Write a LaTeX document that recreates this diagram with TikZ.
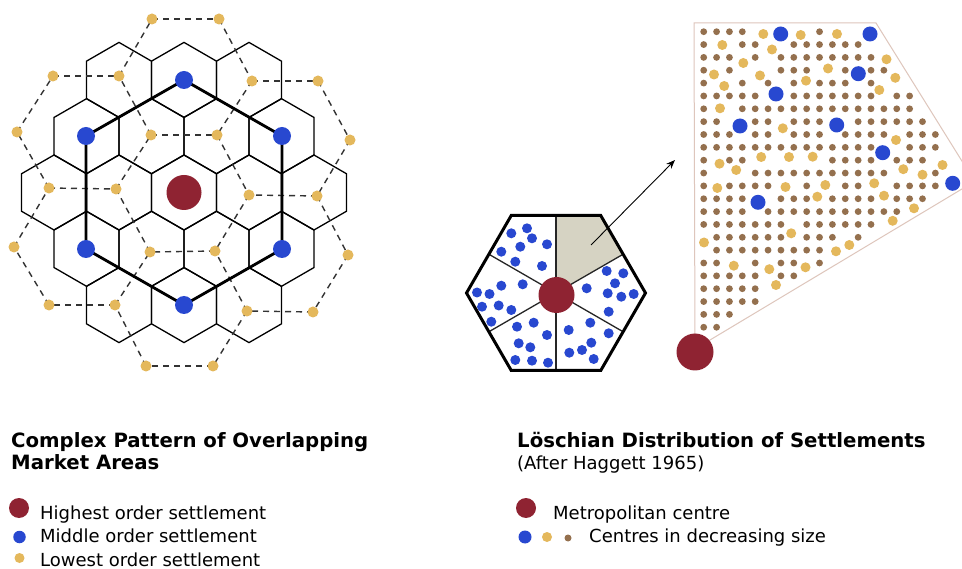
\documentclass[tikz,border=0pt]{standalone}
\usepackage{fontspec}
\setmainfont{DejaVu Sans}
\usetikzlibrary{arrows.meta}
\definecolor{cred}{RGB}{143,35,50}
\definecolor{cblue}{RGB}{40,72,208}
\definecolor{cyel}{RGB}{228,184,92}
\definecolor{cbrown}{RGB}{148,112,78}
\definecolor{cgray}{RGB}{214,211,195}
\definecolor{coutline}{RGB}{222,198,188}
\def\ylist{763.3/34, 800.7/35, 837/34, 722.3/45, 772/49.5, 743.3/63, 886.5/59.3, 714/74.5, 760/75.5, 828/68.5, 895.3/77.8, 724.2/86, 806/80.7, 879.3/90, 720/108.3, 782.8/128.3, 896/140, 761.2/157, 789/157, 812.7/156.7, 719.5/163.7, 736.2/170, 903.3/169.2, 942.5/165, 922.5/174.7, 717.3/188, 785.5/187, 825.3/185, 874.2/183.3, 817.3/196.7, 884/195.7, 914/208.3, 892.7/220.8, 704/242.5, 791.2/233.3, 849.3/245, 836/251.3, 733.8/265.7, 769.3/269.2, 805.5/267.3, 776/285}
\def\blist{780.7/34, 870/34, 858.3/73.7, 776/94, 740/126, 836.7/125, 882.7/152.7, 952.7/183.3, 758/202.3}
\begin{document}
\begin{tikzpicture}[x=1pt,y=-1pt,
  thinhex/.style={draw=black, line width=1.3pt},
  thickhex/.style={draw=black, line width=2.8pt, line join=round},
  dashedge/.style={draw=black!80, line width=1.4pt, dash pattern=on 6pt off 5pt},
  rdot/.style={circle, fill=cred, inner sep=0pt, minimum size=35pt},
  bdot/.style={circle, fill=cblue, inner sep=0pt, minimum size=18pt},
  ydot/.style={circle, fill=cyel, inner sep=0pt, minimum size=11pt},
  sbdot/.style={circle, fill=cblue, inner sep=0pt, minimum size=10pt},
  bigb/.style={circle, fill=cblue, inner sep=0pt, minimum size=15pt},
  bigy/.style={circle, fill=cyel, inner sep=0pt, minimum size=10pt},
  divider/.style={draw=black!85, line width=1.3pt},
  titletext/.style={anchor=base west, inner sep=0pt, font=\fontsize{19.7}{23}\selectfont\bfseries},
  bodytext/.style={anchor=base west, inner sep=0pt, font=\fontsize{18}{22}\selectfont}]
\useasboundingbox (0,0) rectangle (962,569);
\clip (0,0) rectangle (962,569);
\fill[white] (0,0) rectangle (962,569);

% ---------- left: hexagonal market areas ----------
\foreach \cx/\cy in {119/79.9,184/79.9,249/79.9,
    86.5/136.2,151.5/136.2,216.5/136.2,281.5/136.2,
    54/192.5,119/192.5,184/192.5,249/192.5,314/192.5,
    86.5/248.8,151.5/248.8,216.5/248.8,281.5/248.8,
    119/305.1,184/305.1,249/305.1}
  \draw[thinhex] (\cx,\cy) +(90:37.5) -- +(30:37.5) -- +(-30:37.5) -- +(-90:37.5) -- +(-150:37.5) -- +(150:37.5) -- cycle;

\foreach \n/\x/\y in {1/152/19, 2/219/19, 3/53/76, 4/119/76, 5/252/81, 6/318/81,
    7/17/132, 8/151/135, 9/217/135, 10/350/140, 11/49/188, 12/116/189,
    13/249/195, 14/317/196, 15/14/247, 16/150/252, 17/215/251, 18/348/255,
    19/49/305, 20/115/305, 21/247/311, 22/313/312, 23/146/366, 24/213/366}
  \coordinate (Y\n) at (\x,\y);
\foreach \a/\b in {8/9, 9/13, 13/17, 17/16, 16/12, 12/8,
    1/2, 2/5, 5/9, 8/4, 4/1,
    5/6, 6/10, 10/14, 14/13,
    14/18, 18/22, 22/21, 21/17,
    21/24, 24/23, 23/20, 20/16,
    11/12, 20/19, 19/15, 15/11,
    3/4, 11/7, 7/3}
  \draw[dashedge] (Y\a) -- (Y\b);

\coordinate (B1) at (184,80);
\coordinate (B2) at (282,136);
\coordinate (B3) at (282,249);
\coordinate (B4) at (184,305);
\coordinate (B5) at (86,249);
\coordinate (B6) at (86,136);
\draw[thickhex] (B1) -- (B2) -- (B3) -- (B4) -- (B5) -- (B6) -- cycle;

\foreach \n in {1,...,24} \node[ydot] (yd\n) at (Y\n) {};
\foreach \n in {1,...,6} \node[bdot] (bd\n) at (B\n) {};
\node[rdot] (centre) at (184,192.5) {};

% ---------- right: small hexagon ----------
\coordinate (H) at (556,293);
\coordinate (hv1) at (645.5,293);
\coordinate (hv2) at (600.75,215.5);
\coordinate (hv3) at (511.25,215.5);
\coordinate (hv4) at (466.5,293);
\coordinate (hv5) at (511.25,370.5);
\coordinate (hv6) at (600.75,370.5);
\coordinate (hm1) at (623.1,254.25);
\coordinate (hm2) at (556,215.5);
\coordinate (hm3) at (488.9,254.25);
\coordinate (hm4) at (488.9,331.75);
\coordinate (hm5) at (556,370.5);
\coordinate (hm6) at (623.1,331.75);
\fill[cgray] (H) -- (hm2) -- (hv2) -- (hm1) -- cycle;
\foreach \k in {1,...,6} \draw[divider] (H) -- (hm\k);
\foreach \x/\y in {511.3/233.3, 527/228.3, 532/238.3, 520.3/246.7, 547/244.3, 501.3/251.7, 515.3/261.7, 542/266,
    501.3/285.7, 522.7/284.3, 477/292.5, 489.5/294, 482/306.7, 498.7/305.5, 511.3/310, 491.3/321.7,
    533.7/322.7, 517/326.7, 547/335, 518.7/343.3, 530.3/347.3, 515.3/360, 532/360.7, 548/362.7,
    568.7/330, 590.3/322.7, 608.7/333.3, 591.3/342.7, 582/350, 569.3/352.7, 593.7/359,
    606.7/271, 623.3/273.3, 615/283.3, 586.7/288.3, 607.7/293.3, 621.3/296.7, 633.7/294, 608.7/311.7}
  \node[sbdot] at (\x,\y) {};
\draw[draw=black, line width=3pt, line join=miter] (hv1) -- (hv2) -- (hv3) -- (hv4) -- (hv5) -- (hv6) -- cycle;
\node[rdot, minimum size=36pt] (smallcentre) at (556.5,295) {};

\coordinate (aS) at (591,245);
\coordinate (aE) at (675,160);
\draw[line width=0.9pt, -{Stealth[length=9pt,width=7pt]}] (aS) -- (aE);

% ---------- right: enlarged sector ----------
\draw[coutline, line width=1pt] (695,349) -- (694,23) -- (876,23) -- (974.6,181.4) -- cycle;
\foreach \j in {0,...,23}{
  \foreach \i in {0,...,18}{
    \pgfmathsetmacro\gx{703.7+12.87*\i}
    \pgfmathsetmacro\gy{31.7+12.85*\j}
    \pgfmathsetmacro\dA{-0.849*(\gx-876)+0.528*(\gy-23)}
    \pgfmathsetmacro\dB{-0.514*(\gx-713)-0.857*(\gy-338.3)}
    \pgfmathtruncatemacro\inside{(\dA>6)&&(\dB>7.45)}
    \ifnum\inside=1
      \gdef\keep{1}
      \foreach \px/\py in \ylist {
        \pgfmathtruncatemacro\near{(min(abs(\gx-\px),12)^2+min(abs(\gy-\py),12)^2)<100}
        \ifnum\near=1 \gdef\keep{0}\fi
      }
      \foreach \px/\py in \blist {
        \pgfmathtruncatemacro\near{(min(abs(\gx-\px),14)^2+min(abs(\gy-\py),14)^2)<150}
        \ifnum\near=1 \gdef\keep{0}\fi
      }
      \ifnum\keep=1 \fill[cbrown] (\gx,\gy) circle (3.4); \fi
    \fi
  }
}
\foreach \px/\py in \ylist \node[bigy] at (\px,\py) {};
\foreach \px/\py in \blist \node[bigb] at (\px,\py) {};
\node[rdot, minimum size=37pt] (metro) at (695,352) {};

% ---------- titles and legends ----------
\node[titletext] (t1) at (11,447) {Complex Pattern of Overlapping};
\node[titletext] (t2) at (11,470) {Market Areas};
\node[titletext] (t3) at (517,447) {Löschian Distribution of Settlements};
\node[bodytext] (t4) at (517,469.5) {(After Haggett 1965)};

\node[rdot, minimum size=20pt] (lg1) at (19,508) {};
\node[bdot, minimum size=12.5pt] (lg2) at (19.5,537) {};
\node[ydot, minimum size=10pt] (lg3) at (19.5,558) {};
\node[bodytext] (l1) at (40,519) {Highest order settlement};
\node[bodytext] (l2) at (40,542.7) {Middle order settlement};
\node[bodytext] (l3) at (40,566) {Lowest order settlement};

\node[rdot, minimum size=20pt] (rg1) at (526,508) {};
\node[bdot, minimum size=13pt] (rg2) at (525,537) {};
\node[ydot, minimum size=10pt] (rg3) at (547,537) {};
\node[circle, fill=cbrown, inner sep=0pt, minimum size=7pt] (rg4) at (568,538) {};
\node[bodytext] (r1) at (553,519) {Metropolitan centre};
\node[bodytext] (r2) at (589,542.7) {Centres in decreasing size};
\end{tikzpicture}
\end{document}
